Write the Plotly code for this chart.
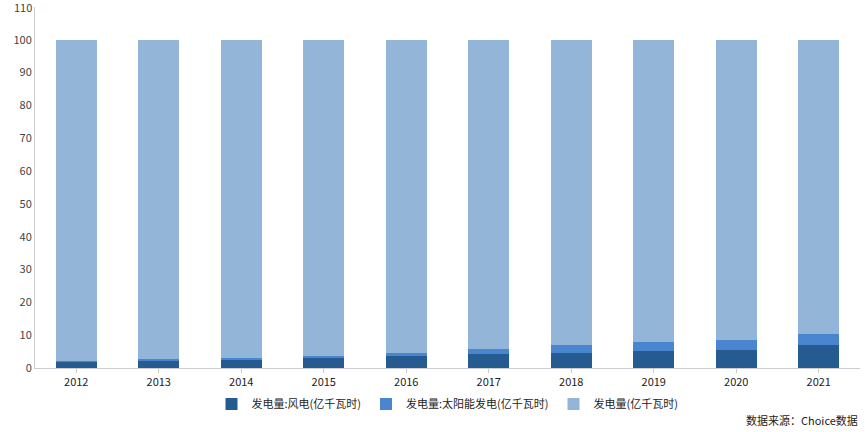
import plotly.graph_objects as go

years = ["2012","2013","2014","2015","2016","2017","2018","2019","2020","2021"]
wind = [1.9,2.4,2.7,2.9,3.7,4.2,4.6,5.1,5.4,6.9]
solar = [0.2,0.2,0.3,0.7,0.9,1.7,2.5,2.8,3.1,3.5]
other = [round(100-w-s,1) for w,s in zip(wind,solar)]
names = ["发电量:风电(亿千瓦时)","发电量:太阳能发电(亿千瓦时)","发电量(亿千瓦时)"]
colors = ["#265b92","#4a86cf","#93b5d8"]
yticks = [0,10,20,30,40,50,60,70,80,90,100,110]

fig = go.Figure()
for n,v,c in zip(names,[wind,solar,other],colors):
    fig.add_bar(x=years,y=v,name=n,marker=dict(color=c,line=dict(width=0)),width=0.5)
fig.update_layout(
    barmode="stack",width=865,height=432,paper_bgcolor="white",plot_bgcolor="white",
    margin=dict(l=35,r=5,t=7,b=64,autoexpand=False),
    font=dict(family="Noto Sans CJK SC, Noto Sans",size=11,color="#333"),
    yaxis=dict(range=[0,110],tickvals=yticks[:-1],showgrid=False,showline=True,linecolor="#ccc",ticks="",tickfont=dict(color="#444")),
    xaxis=dict(showline=True,linecolor="#ccc",ticks="outside",tickcolor="#ccc",ticklen=4,tickfont=dict(color="#222")),
    legend=dict(orientation="h",traceorder="normal",x=0.5,xanchor="center",y=-0.1,yanchor="middle",font=dict(size=11,color="#222")),
)
fig.add_annotation(text=str(yticks[-1]),xref="paper",yref="y",x=0,y=yticks[-1],xanchor="right",yanchor="middle",xshift=-1,showarrow=False,font=dict(size=11,color="#444"))
fig.add_annotation(text="数据来源：Choice数据",xref="paper",yref="paper",x=1,y=-0.145,xanchor="right",yanchor="middle",showarrow=False,font=dict(size=11,color="#222"))
fig.write_html("out.html", post_script="document.body.style.margin='0';", config={"displayModeBar": False})
